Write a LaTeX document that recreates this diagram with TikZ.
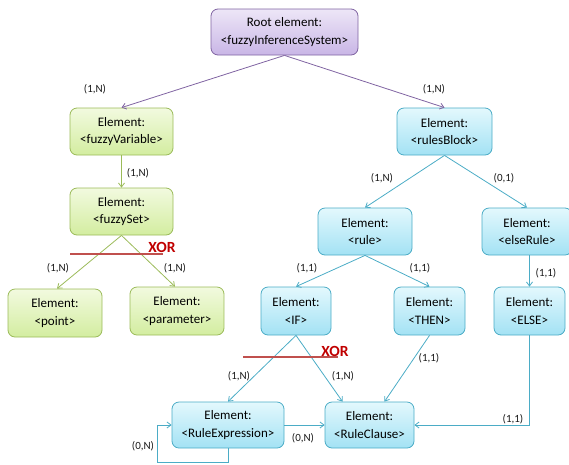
\documentclass[tikz,border=0pt]{standalone}
\usepackage{fontspec}
\setmainfont{Carlito}
\usetikzlibrary{arrows.meta}
\definecolor{pBorder}{HTML}{8064A2}
\definecolor{pTop}{HTML}{EDE6F7}
\definecolor{pBot}{HTML}{C9B6E6}
\definecolor{gBorder}{HTML}{9BBB59}
\definecolor{gTop}{HTML}{F2FADF}
\definecolor{gBot}{HTML}{D3EDA0}
\definecolor{bBorder}{HTML}{4BACC6}
\definecolor{bTop}{HTML}{E3F8FD}
\definecolor{bBot}{HTML}{A3E2F4}
\definecolor{xorRed}{HTML}{C00000}
\definecolor{xorLine}{HTML}{C0504D}
\tikzset{
  box/.style={rounded corners=7pt, line width=0.8pt, align=center,
    font=\fontsize{13}{17.5}\selectfont, inner sep=1pt},
  pbox/.style={box, draw=pBorder, top color=pTop, bottom color=pBot},
  gbox/.style={box, draw=gBorder, top color=gTop, bottom color=gBot},
  bbox/.style={box, draw=bBorder, top color=bTop, bottom color=bBot},
  conn/.style={line width=0.8pt, -{Straight Barb[length=4pt,width=6pt]}},
  pconn/.style={conn, draw=pBorder},
  gconn/.style={conn, draw=gBorder},
  bconn/.style={conn, draw=bBorder},
  lbl/.style={font=\fontsize{11}{13}\selectfont, text=black!90, inner sep=0pt},
  xorline/.style={line width=1.2pt, draw=xorLine},
  xortext/.style={font=\fontsize{15.5}{17}\bfseries\selectfont, text=xorRed, inner sep=0pt}
}
\begin{document}
\begin{tikzpicture}[x=1pt,y=-1pt]
\useasboundingbox (0,0) rectangle (569,464);
\begin{scope}
\clip (0,0) rectangle (569,464);
% nodes
\node[pbox, minimum width=147pt, minimum height=46pt] (root) at (284.5,32) {Root element:\\<fuzzyInferenceSystem>};
\node[gbox, minimum width=103pt, minimum height=47pt] (fv) at (121.5,131.5) {Element:\\<fuzzyVariable>};
\node[gbox, minimum width=103pt, minimum height=47pt] (fs) at (121.5,211.5) {Element:\\<fuzzySet>};
\node[gbox, minimum width=94pt, minimum height=48pt] (pt) at (55,313) {Element:\\<point>};
\node[gbox, minimum width=94pt, minimum height=48pt] (par) at (177,311) {Element:\\<parameter>};
\node[bbox, minimum width=95pt, minimum height=47pt] (rb) at (444.5,131.5) {Element:\\<rulesBlock>};
\node[bbox, minimum width=94pt, minimum height=47pt] (rule) at (365,231.5) {Element:\\<rule>};
\node[bbox, minimum width=90pt, minimum height=47pt] (er) at (527,231.5) {Element:\\<elseRule>};
\node[bbox, minimum width=70pt, minimum height=48pt] (if) at (296,311) {Element:\\<IF>};
\node[bbox, minimum width=71pt, minimum height=48pt] (then) at (429.5,311) {Element:\\<THEN>};
\node[bbox, minimum width=71pt, minimum height=48pt] (else) at (529.5,311) {Element:\\<ELSE>};
\node[bbox, minimum width=112pt, minimum height=46pt] (re) at (228,425) {Element:\\<RuleExpression>};
\node[bbox, minimum width=89pt, minimum height=46pt] (rc) at (369.5,425) {Element:\\<RuleClause>};
\end{scope}
% connectors
\draw[pconn] (root.south) -- (fv.north);
\draw[pconn] (root.south) -- (rb.north);
\draw[gconn] (fv.south) -- (fs.north);
\draw[gconn] (fs.south) -- ([xshift=2pt]pt.north);
\draw[gconn] (fs.south) -- ([xshift=-2pt]par.north);
\draw[bconn] (rb.south) -- (rule.north);
\draw[bconn] (rb.south) -- (er.north);
\draw[bconn] (rule.south) -- (if.north);
\draw[bconn] (rule.south) -- (then.north);
\draw[bconn] (else.north |- er.south) -- (else.north);
\draw[bconn] (if.south) -- (re.north);
\draw[bconn] (if.south) -- ([xshift=-27pt]rc.north);
\draw[bconn] (then.south) -- ([xshift=15pt]rc.north);
\draw[bconn] (else.south) |- (rc.east);
\draw[bconn] (re.east) -- (rc.west);
\draw[bconn] (re.south) |- (157,462) |- (re.west);
% XOR
\draw[xorline] (70,254) -- (163,254);
\node[xortext] (xor1) at (162,247) {XOR};
\draw[xorline] (243,357) -- (338,357);
\node[xortext] (xor2) at (335,351) {XOR};
% labels
\node[lbl] at (95,89) {(1,N)};
\node[lbl] at (434,89) {(1,N)};
\node[lbl] at (138,173) {(1,N)};
\node[lbl] at (58,268) {(1,N)};
\node[lbl] at (175,268) {(1,N)};
\node[lbl] at (382,178) {(1,N)};
\node[lbl] at (504,178) {(0,1)};
\node[lbl] at (307,268) {(1,1)};
\node[lbl] at (420,268) {(1,1)};
\node[lbl] at (546,273) {(1,1)};
\node[lbl] at (239,376) {(1,N)};
\node[lbl] at (343,376) {(1,N)};
\node[lbl] at (429,358) {(1,1)};
\node[lbl] at (513,419) {(1,1)};
\node[lbl] at (303,438) {(0,N)};
\node[lbl] at (143,446) {(0,N)};
\end{tikzpicture}
\end{document}
